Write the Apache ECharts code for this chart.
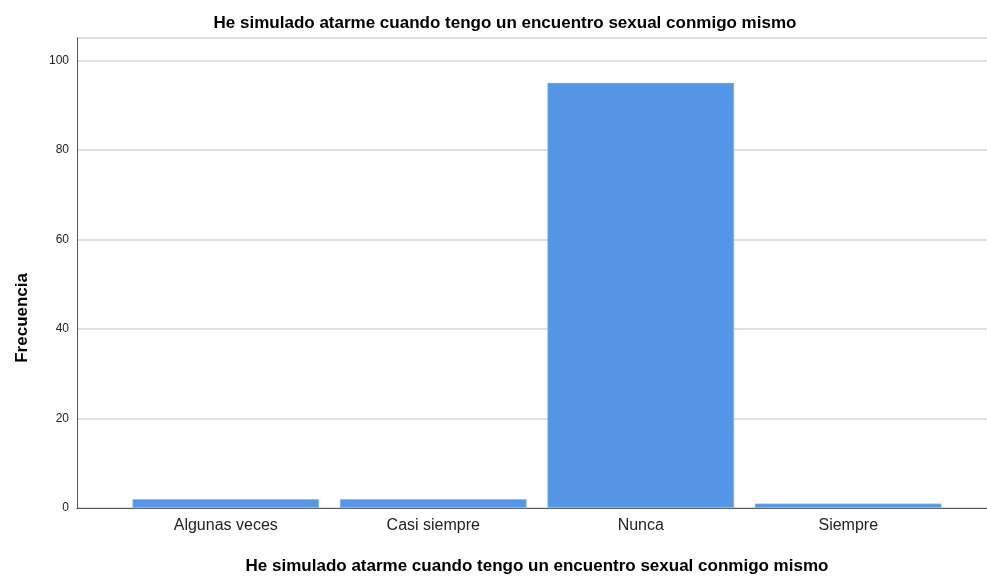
<!DOCTYPE html>
<html><head><meta charset="utf-8">
<script src="https://cdn.jsdelivr.net/npm/echarts@6/dist/echarts.min.js"></script>
<style>html,body{margin:0;padding:0;background:#fff}#c{width:987px;height:576px}</style>
</head><body><div id="c"></div>
<script>
const title = 'He simulado atarme cuando tengo un encuentro sexual conmigo mismo';
const categories = ['Algunas veces', 'Casi siempre', 'Nunca', 'Siempre'];
const values = [2, 2, 95, 1];
const yTicks = [0, 20, 40, 60, 80, 100];
const yName = 'Frecuencia';
const xName = 'He simulado atarme cuando tengo un encuentro sexual conmigo mismo';

const F = 'Liberation Sans, Arial, sans-serif';
const chart = echarts.init(document.getElementById('c'));
chart.setOption({
  animation: false,
  title: { text: title, left: 500, top: 10, textAlign: 'center',
    textStyle: { fontFamily: F, fontSize: 17, fontWeight: 'bold', color: '#000' } },
  graphic: [
    { type: 'text', left: 14, top: 273, rotation: Math.PI/2, style: { text: yName, font: 'bold 17px ' + F, fill: '#000', textAlign: 'center', textVerticalAlign: 'middle', x: 0, y: 0 } }
  ],
  grid: [
    { left: 77, right: 0, top: 38, bottom: 68, outerBoundsMode: 'none', containLabel: false },
    { left: 122, right: 35, top: 38, bottom: 68, outerBoundsMode: 'none', containLabel: false }
  ],
  xAxis: [
    { gridIndex: 0, type: 'value', min: 0, max: 1, show: true,
      axisLine: { show: true, lineStyle: { color: '#555', width: 1 } },
      axisTick: { show: false }, axisLabel: { show: false }, splitLine: { show: false },
      name: xName, nameLocation: 'middle', nameGap: 50,
      nameTextStyle: { fontFamily: F, fontSize: 17, fontWeight: 'bold', color: '#000', padding: [0, 0, 0, 10] } },
    { gridIndex: 1, type: 'category', data: categories,
      axisLine: { show: false }, axisTick: { show: false },
      axisLabel: { fontFamily: F, fontSize: 16, color: '#222', margin: 10 } }
  ],
  yAxis: [
    { gridIndex: 0, type: 'value', min: 0, max: 105, interval: 20,
      axisLine: { show: true, lineStyle: { color: '#555', width: 1 } },
      axisTick: { show: false },
      axisLabel: { fontFamily: F, fontSize: 12, color: '#222', margin: 8,
        formatter: v => yTicks.includes(v) ? String(v) : '' },
      splitLine: { show: true, lineStyle: { color: '#d4d4d4', width: 1.5 } } },
    { gridIndex: 1, type: 'value', min: 0, max: 105, show: false, splitLine: { show: false } }
  ],
  series: [{
    type: 'bar', xAxisIndex: 1, yAxisIndex: 1, data: values, barCategoryGap: '10%',
    itemStyle: { color: '#5597e6', borderColor: '#b5d0f3', borderWidth: 0.5 }
  }]
});
</script></body></html>
